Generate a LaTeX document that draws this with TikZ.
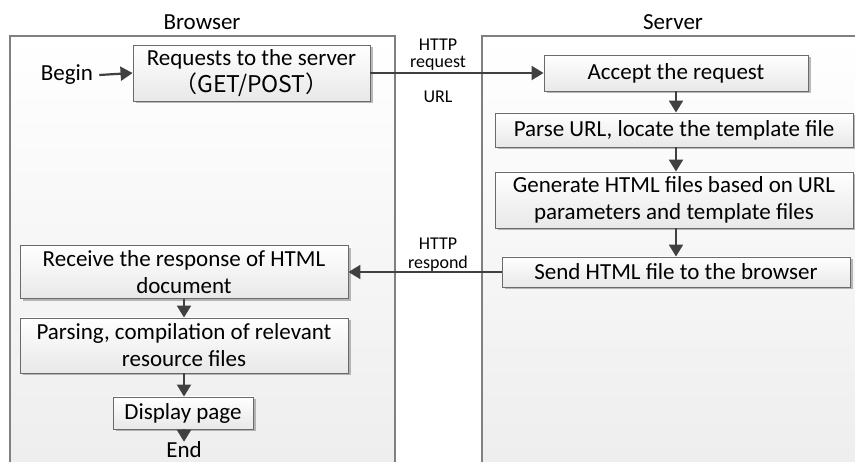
\documentclass[tikz,border=0pt]{standalone}
\usepackage{fontspec}
\setmainfont{Carlito}
\newfontfamily\cjk{Noto Sans CJK SC}
\usetikzlibrary{arrows.meta,shadows}

\definecolor{lanegray}{HTML}{808080}
\definecolor{boxgray}{HTML}{6A6A6A}
\definecolor{arrowgray}{HTML}{404040}

\tikzset{
  lane/.style={draw=lanegray, line width=1.2pt, top color=white, bottom color=black!7},
  stepbox/.style={draw=boxgray, line width=0.9pt, top color=white, bottom color=black!9,
    align=center, inner sep=0pt, font=\fontsize{23}{27}\selectfont,
    drop shadow={shadow xshift=2.5pt, shadow yshift=-2.5pt, fill=black!45, opacity=0.6}},
  plain/.style={inner sep=0pt, font=\fontsize{23}{27}\selectfont},
  lbl/.style={inner sep=0pt, font=\fontsize{18}{21}\selectfont},
  flow/.style={draw=arrowgray, line width=2.2pt, -{Triangle[length=12pt,width=14pt]}},
}

\begin{document}
\begin{tikzpicture}[x=1pt,y=-1pt]
\useasboundingbox (0,0) rectangle (855,462);
\clip (0,0) rectangle (855,462);
\fill[white] (0,0) rectangle (855,462);

% swim lanes
\draw[lane] (10,36) rectangle (395,480);
\draw[lane] (482,36) rectangle (880,480);
\node[plain] (tb) at (202,22) {Browser};
\node[plain] (ts) at (673,22) {Server};

% browser side
\node[plain] (begin) at (67,75) {Begin};
\node[stepbox, minimum width=237pt, minimum height=56pt] (req) at (251.5,73)
  {Requests to the server\\\cjk{（}GET/POST\cjk{）}};
\node[stepbox, minimum width=328pt, minimum height=53pt] (recv) at (184,272)
  {Receive the response of HTML\\document};
\node[stepbox, minimum width=328pt, minimum height=55pt] (pars) at (184,345.5)
  {Parsing, compilation of relevant\\resource files};
\node[stepbox, minimum width=140pt, minimum height=32pt] (disp) at (183,413)
  {Display page};
\node[plain] (end) at (184,450) {End};

% server side
\node[stepbox, minimum width=264pt, minimum height=36pt] (acc) at (676,73)
  {Accept the request};
\node[stepbox, minimum width=358pt, minimum height=34pt] (parse) at (674,130)
  {Parse URL, locate the template file};
\node[stepbox, minimum width=358pt, minimum height=56pt] (gen) at (674,200)
  {Generate HTML files based on URL\\parameters and template files};
\node[stepbox, minimum width=348pt, minimum height=30pt] (send) at (676,272)
  {Send HTML file to the browser};

% connector labels
\node[lbl] (l1) at (438,45) {HTTP};
\node[lbl] (l2) at (438,63) {request};
\node[lbl] (l3) at (438,97) {URL};
\node[lbl] (l4) at (438,244) {HTTP};
\node[lbl] (l5) at (438,264) {respond};

% connectors
\draw[flow] (begin.east) ++(6,0) -- (req.west);
\draw[flow] (req.east) -- (acc.west);
\draw[flow] (acc.south -| 676,0) -- (parse.north -| 676,0);
\draw[flow] (parse.south -| 676,0) -- (gen.north -| 676,0);
\draw[flow] (gen.south -| 676,0) -- (send.north);
\draw[flow] (send.west) -- (recv.east);
\draw[flow] (recv.south -| 184,0) -- (pars.north -| 184,0);
\draw[flow] (pars.south -| 184,0) -- (disp.north -| 184,0);
\draw[flow] (disp.south -| 184,0) -- (end.north);
\end{tikzpicture}
\end{document}
